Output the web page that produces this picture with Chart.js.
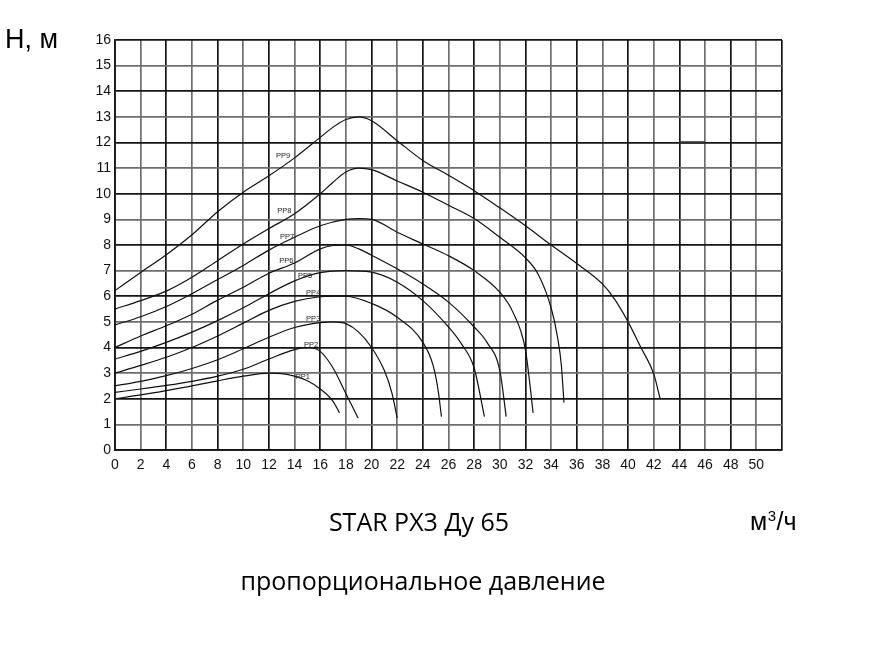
<!DOCTYPE html>
<html>
<head>
<meta charset="utf-8">
<script src="https://cdn.jsdelivr.net/npm/chart.js@4/dist/chart.umd.min.js"></script>
<style>
  html, body { margin: 0; padding: 0; background: #fff; }
  canvas { display: block; }
</style>
</head>
<body>
<canvas id="chart" width="874" height="649"></canvas>
<script>
// Pump curves, proportional-pressure modes PP1..PP9: [flow m³/h, head m]
const pp1 = [[0,2.0],[2,2.15],[4,2.32],[6,2.5],[8,2.7],[10,2.88],[12,3.0],[13,2.98],[14,2.88],[15,2.7],[16,2.38],[17,1.9],[17.5,1.45]];
const pp2 = [[0,2.25],[2,2.38],[4,2.52],[6,2.68],[8,2.88],[10,3.15],[12,3.55],[14,3.92],[15,4.0],[16,3.85],[17,3.2],[18,2.2],[18.95,1.25]];
const pp3 = [[0,2.5],[2,2.68],[4,2.9],[6,3.18],[8,3.52],[10,3.95],[12,4.4],[14,4.78],[16,4.97],[17,5.0],[18,4.93],[19,4.6],[20,4.0],[21,3.1],[21.6,2.2],[22,1.25]];
const pp4 = [[0,3.0],[2,3.3],[4,3.62],[6,4.0],[8,4.45],[10,4.95],[12,5.45],[14,5.8],[16,5.98],[17,6.0],[18,6.0],[20,5.72],[22,5.18],[24,4.2],[24.8,3.3],[25.2,2.3],[25.45,1.3]];
const pp5 = [[0,3.55],[2,3.85],[4,4.2],[6,4.6],[8,5.05],[10,5.55],[12,6.1],[14,6.6],[16,6.92],[18,7.0],[20,6.94],[22,6.55],[24,5.83],[26,4.8],[27,4.15],[28,3.2],[28.8,1.3]];
const pp6 = [[0,4.0],[2,4.45],[4,4.85],[6,5.3],[8,5.85],[10,6.35],[12,6.9],[14,7.3],[16,7.85],[17,7.98],[18,8.0],[19,7.85],[20,7.6],[22,7.07],[24,6.48],[26,5.77],[28,4.8],[29,4.2],[30,3.1],[30.5,1.3]];
const pp7 = [[0,4.88],[2,5.2],[4,5.6],[6,6.1],[8,6.65],[10,7.2],[12,7.8],[14,8.3],[16,8.75],[18,9.0],[19,9.03],[20,9.0],[22,8.5],[24,8.04],[26,7.58],[28,7.0],[30,6.16],[31,5.4],[32,3.9],[32.6,1.45]];
const pp8 = [[0,5.5],[2,5.83],[4,6.2],[6,6.74],[8,7.39],[10,8.04],[12,8.64],[14,9.22],[16,10.0],[17,10.45],[18,10.85],[19,11.0],[20,10.94],[22,10.5],[24,10.06],[26,9.55],[28,9.03],[30,8.3],[32,7.5],[33,6.85],[34,5.55],[34.5,4.4],[34.8,3.3],[35,1.85]];
const pp9 = [[0,6.22],[2,6.93],[4,7.62],[6,8.4],[8,9.3],[10,10.06],[12,10.7],[14,11.4],[16,12.2],[17,12.6],[18,12.9],[19,13.0],[20,12.85],[22,12.07],[24,11.3],[26,10.72],[28,10.12],[30,9.45],[32,8.75],[34,8.0],[36,7.28],[38,6.48],[39,5.85],[40,5.0],[41,4.0],[42,2.97],[42.5,2.0]];

const curveNames = ['PP1','PP2','PP3','PP4','PP5','PP6','PP7','PP8','PP9'];
const curves = [pp1, pp2, pp3, pp4, pp5, pp6, pp7, pp8, pp9];

// Axis ranges (flow, head)
const flowMin = 0, flowMax = 52, flowStep = 2;
const headMin = 0, headMax = 16, headStep = 1;

const datasets = curves.map((pts, i) => ({
  label: curveNames[i],
  data: pts.map(([x, y]) => ({ x, y })),
  borderColor: '#111',
  borderWidth: 1.2,
  pointRadius: 0,
  fill: false,
  cubicInterpolationMode: 'monotone'
}));

// Curve name tags and chart captions
const annotate = {
  id: 'annotate',
  afterDatasetsDraw(chart, args, opts) {
    const { ctx, scales: { x, y } } = chart;
    ctx.save();
    // short heavy segment on the 12 m line
    ctx.strokeStyle = '#333';
    ctx.lineWidth = 2.6;
    ctx.beginPath();
    ctx.moveTo(x.getPixelForValue(44), y.getPixelForValue(12));
    ctx.lineTo(x.getPixelForValue(46), y.getPixelForValue(12));
    ctx.stroke();

    ctx.fillStyle = '#222';
    ctx.font = '7.5px "Liberation Sans", Arial, sans-serif';
    ctx.textAlign = 'left';
    ctx.textBaseline = 'alphabetic';
    opts.tags.forEach(([name, fx, fy]) => {
      ctx.fillText(name, x.getPixelForValue(fx), y.getPixelForValue(fy));
    });

    ctx.fillStyle = '#000';
    ctx.font = '27px "Liberation Sans", Arial, sans-serif';
    ctx.textAlign = 'left';
    ctx.fillText('H, м', 5, 48);

    // flow unit: м³/ч with a raised 3
    let ux = 750;
    const big = '25px "Liberation Sans", Arial, sans-serif';
    const small = '15px "Liberation Sans", Arial, sans-serif';
    ctx.font = big;
    ctx.fillText('м', ux, 530);
    ux += ctx.measureText('м').width + 0.5;
    ctx.font = small;
    ctx.fillText('3', ux, 521);
    ux += ctx.measureText('3').width + 0.5;
    ctx.font = big;
    ctx.fillText('/ч', ux, 530);

    ctx.textAlign = 'center';
    ctx.font = '25px "Open Sans", sans-serif';
    ctx.fillText('STAR PX3 Ду 65', 419, 531);
    ctx.fillText('пропорциональное давление', 423, 590);
    ctx.restore();
  }
};

const gridColor = (c) => (c.index % 2 ? '#6e6e6e' : '#151515');

new Chart(document.getElementById('chart'), {
  type: 'line',
  data: { datasets },
  options: {
    responsive: false,
    animation: false,
    layout: { padding: { top: 40, right: 92, bottom: 159, left: 0 } },
    plugins: {
      legend: { display: false },
      tooltip: { enabled: false },
      annotate: {
        tags: [
          ['PP1', 14.1, 2.77], ['PP2', 14.74, 4.02], ['PP3', 14.9, 5.04],
          ['PP4', 14.9, 6.05], ['PP5', 14.27, 6.72], ['PP6', 12.8, 7.3],
          ['PP7', 12.87, 8.24], ['PP8', 12.64, 9.26], ['PP9', 12.56, 11.4]
        ]
      }
    },
    scales: {
      x: {
        type: 'linear',
        min: flowMin, max: flowMax,
        ticks: {
          stepSize: flowStep,
          padding: 7,
          color: '#111',
          font: { family: '"Liberation Sans", Arial, sans-serif', size: 14 },
          maxRotation: 0,
          autoSkip: false,
          callback: (v) => (v >= flowMax ? '' : v)
        },
        grid: { color: gridColor, lineWidth: 1.7, drawTicks: false },
        border: { color: '#151515', width: 1.7 },
        afterFit: (s) => { s.height = 40; }
      },
      y: {
        type: 'linear',
        min: headMin, max: headMax,
        ticks: {
          stepSize: headStep,
          padding: 4,
          color: '#111',
          font: { family: '"Liberation Sans", Arial, sans-serif', size: 14 },
          autoSkip: false
        },
        grid: { color: gridColor, lineWidth: 1.7, drawTicks: false },
        border: { color: '#151515', width: 1.7 },
        afterFit: (s) => { s.height = s.height; s.width = 115; }
      }
    }
  },
  plugins: [annotate]
});
</script>
</body>
</html>
